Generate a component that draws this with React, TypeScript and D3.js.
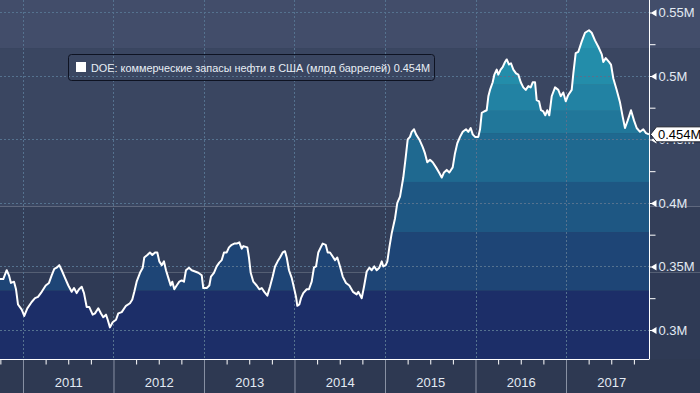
import React, { useEffect, useRef } from 'react';
import * as d3 from 'd3';

// weekly DOE commercial crude stocks, [decimal year, value in M]
const stocks2010 = [[2010.746,0.340],[2010.782,0.340],[2010.820,0.347],[2010.845,0.343],[2010.867,0.337],[2010.901,0.338],[2010.923,0.332],[2010.945,0.320],[2010.986,0.316]];
const stocks2011 = [[2011.014,0.311],[2011.048,0.317],[2011.096,0.322],[2011.133,0.325],[2011.166,0.326],[2011.207,0.330],[2011.251,0.335],[2011.287,0.337],[2011.317,0.343],[2011.346,0.348],[2011.372,0.349],[2011.401,0.351],[2011.428,0.347],[2011.464,0.341],[2011.501,0.335],[2011.538,0.330],[2011.564,0.333],[2011.593,0.329],[2011.619,0.332],[2011.649,0.334],[2011.674,0.329],[2011.704,0.318],[2011.733,0.318],[2011.770,0.312],[2011.796,0.313],[2011.832,0.317],[2011.862,0.313],[2011.887,0.310],[2011.917,0.312],[2011.936,0.308],[2011.961,0.302],[2011.991,0.306]];
const stocks2012 = [[2012.028,0.308],[2012.053,0.313],[2012.091,0.314],[2012.138,0.319],[2012.182,0.321],[2012.208,0.324],[2012.230,0.330],[2012.256,0.338],[2012.293,0.345],[2012.323,0.349],[2012.340,0.357],[2012.374,0.359],[2012.403,0.361],[2012.429,0.359],[2012.459,0.361],[2012.484,0.361],[2012.506,0.354],[2012.533,0.351],[2012.558,0.354],[2012.580,0.347],[2012.606,0.341],[2012.632,0.335],[2012.650,0.338],[2012.672,0.332],[2012.698,0.335],[2012.727,0.338],[2012.754,0.339],[2012.779,0.338],[2012.801,0.347],[2012.834,0.349],[2012.864,0.347],[2012.901,0.346],[2012.937,0.345],[2012.975,0.343],[2012.992,0.333]];
const stocks2013 = [[2013.030,0.333],[2013.059,0.335],[2013.077,0.342],[2013.110,0.345],[2013.140,0.350],[2013.169,0.353],[2013.196,0.355],[2013.221,0.361],[2013.251,0.361],[2013.276,0.365],[2013.306,0.367],[2013.335,0.368],[2013.361,0.368],[2013.390,0.369],[2013.417,0.364],[2013.435,0.366],[2013.479,0.365],[2013.497,0.357],[2013.516,0.345],[2013.545,0.338],[2013.582,0.335],[2013.611,0.332],[2013.638,0.333],[2013.666,0.330],[2013.700,0.327],[2013.729,0.334],[2013.759,0.342],[2013.785,0.350],[2013.814,0.354],[2013.840,0.357],[2013.870,0.361],[2013.895,0.362],[2013.914,0.357],[2013.939,0.347],[2013.969,0.341],[2013.995,0.333]];
const stocks2014 = [[2014.017,0.326],[2014.031,0.319],[2014.053,0.320],[2014.072,0.325],[2014.097,0.329],[2014.135,0.332],[2014.160,0.332],[2014.190,0.338],[2014.215,0.349],[2014.238,0.350],[2014.263,0.361],[2014.290,0.365],[2014.312,0.368],[2014.345,0.367],[2014.367,0.361],[2014.392,0.361],[2014.411,0.359],[2014.448,0.355],[2014.473,0.357],[2014.503,0.350],[2014.533,0.342],[2014.569,0.337],[2014.606,0.335],[2014.646,0.330],[2014.687,0.328],[2014.705,0.330],[2014.743,0.325],[2014.768,0.334],[2014.798,0.346],[2014.827,0.349],[2014.853,0.347],[2014.882,0.350],[2014.908,0.347],[2014.937,0.349],[2014.964,0.354],[2014.981,0.350]];
const stocks2015 = [[2015.008,0.351],[2015.026,0.354],[2015.048,0.365],[2015.074,0.376],[2015.111,0.388],[2015.136,0.400],[2015.166,0.405],[2015.202,0.420],[2015.229,0.436],[2015.251,0.450],[2015.276,0.452],[2015.295,0.456],[2015.321,0.458],[2015.343,0.454],[2015.379,0.450],[2015.417,0.444],[2015.442,0.439],[2015.467,0.432],[2015.497,0.434],[2015.527,0.432],[2015.564,0.428],[2015.597,0.424],[2015.627,0.420],[2015.652,0.424],[2015.682,0.426],[2015.711,0.424],[2015.748,0.428],[2015.773,0.439],[2015.799,0.447],[2015.829,0.452],[2015.859,0.456],[2015.895,0.458],[2015.921,0.456],[2015.947,0.459],[2015.969,0.454],[2015.995,0.452]];
const stocks2016 = [[2016.031,0.452],[2016.050,0.458],[2016.069,0.471],[2016.094,0.472],[2016.124,0.473],[2016.142,0.484],[2016.160,0.489],[2016.190,0.495],[2016.208,0.501],[2016.234,0.505],[2016.252,0.501],[2016.278,0.505],[2016.300,0.507],[2016.326,0.511],[2016.345,0.513],[2016.370,0.509],[2016.392,0.510],[2016.418,0.505],[2016.448,0.502],[2016.473,0.501],[2016.500,0.495],[2016.528,0.491],[2016.555,0.489],[2016.584,0.492],[2016.610,0.491],[2016.632,0.495],[2016.658,0.495],[2016.676,0.481],[2016.702,0.480],[2016.724,0.473],[2016.749,0.472],[2016.771,0.469],[2016.793,0.473],[2016.815,0.469],[2016.842,0.484],[2016.879,0.491],[2016.915,0.489],[2016.942,0.484],[2016.970,0.487],[2016.997,0.480]];
const stocks2017 = [[2017.025,0.485],[2017.063,0.489],[2017.081,0.502],[2017.107,0.518],[2017.136,0.519],[2017.173,0.527],[2017.210,0.534],[2017.254,0.536],[2017.284,0.534],[2017.320,0.528],[2017.357,0.523],[2017.395,0.517],[2017.412,0.511],[2017.439,0.514],[2017.475,0.511],[2017.497,0.509],[2017.523,0.498],[2017.560,0.489],[2017.597,0.479],[2017.626,0.468],[2017.652,0.459],[2017.682,0.465],[2017.718,0.473],[2017.751,0.465],[2017.781,0.459],[2017.818,0.456],[2017.854,0.458],[2017.884,0.455],[2017.917,0.454]];

const years = [2011, 2012, 2013, 2014, 2015, 2016, 2017];
const yTicks = [0.3, 0.35, 0.4, 0.45, 0.5, 0.55];
const yMinorTicks = [0.325, 0.375, 0.425, 0.475, 0.525];
const lastValue = 0.454;
const seriesName = 'DOE: коммерческие запасы нефти в США (млрд баррелей)';

// stepped colour bands
const fillSteps = [0.2771, 0.331, 0.377, 0.4165, 0.455, 0.4725, 0.493, 0.522, 0.5598];
const fillColors = ['#1c2e68', '#1e4576', '#1e5783', '#1f6990', '#21779a', '#2282a3', '#238daa', '#2796b1'];
const bgSteps = [0.2771, 0.345, 0.397, 0.522, 0.5598];
const bgColors = ['#2f3a55', '#333e58', '#3a4661', '#424d6a'];

const W = 700;
const H = 393;
const plotRight = 649;
const plotBottom = 359;
const font = '"Liberation Sans", Arial, sans-serif';

const App: React.FC = () => {
  const ref = useRef<SVGSVGElement | null>(null);

  useEffect(() => {
    if (!ref.current) return;
    const svg = d3.select(ref.current);
    svg.selectAll('*').remove();

    const data = [...stocks2010, ...stocks2011, ...stocks2012, ...stocks2013,
      ...stocks2014, ...stocks2015, ...stocks2016, ...stocks2017];

    const x = d3.scaleLinear().domain([2010.746, 2017.917]).range([0, plotRight]);
    const y = d3.scaleLinear().domain([0.2771, 0.5598]).range([plotBottom, 0]);

    // background bands
    bgColors.forEach((c, i) => {
      svg.append('rect')
        .attr('x', 0).attr('width', W)
        .attr('y', y(bgSteps[i + 1]))
        .attr('height', y(bgSteps[i]) - y(bgSteps[i + 1]))
        .attr('fill', c);
    });
    svg.append('rect')
      .attr('x', 0).attr('y', plotBottom).attr('width', W).attr('height', H - plotBottom)
      .attr('fill', '#2e3952');

    // area clip + stepped fill
    const area = d3.area<number[]>()
      .x(d => x(d[0]))
      .y0(plotBottom)
      .y1(d => y(d[1]));
    svg.append('clipPath').attr('id', 'area-clip')
      .append('path').attr('d', area(data) as string);

    const fills = svg.append('g').attr('clip-path', 'url(#area-clip)');
    fillColors.forEach((c, i) => {
      fills.append('rect')
        .attr('x', 0).attr('width', plotRight)
        .attr('y', y(fillSteps[i + 1]))
        .attr('height', y(fillSteps[i]) - y(fillSteps[i + 1]))
        .attr('fill', c);
    });

    // dotted grid
    const grid = svg.append('g')
      .attr('stroke', '#55728f')
      .attr('stroke-width', 1)
      .attr('stroke-dasharray', '2,2');
    grid.selectAll('line.v').data(years).enter().append('line')
      .attr('x1', d => Math.round(x(d)) + 0.5).attr('x2', d => Math.round(x(d)) + 0.5)
      .attr('y1', 0).attr('y2', plotBottom);
    grid.selectAll('line.h').data(yTicks).enter().append('line')
      .attr('x1', 0).attr('x2', plotRight)
      .attr('y1', d => Math.round(y(d)) + 0.5).attr('y2', d => Math.round(y(d)) + 0.5);

    // the line
    const line = d3.line<number[]>()
      .x(d => x(d[0]))
      .y(d => y(d[1]));
    svg.append('path')
      .attr('d', line(data) as string)
      .attr('fill', 'none')
      .attr('stroke', '#ffffff')
      .attr('stroke-width', 2)
      .attr('stroke-linejoin', 'round');

    // x axis: quarter ticks
    const quarters = d3.range(2010.75, 2017.9, 0.25).filter(q => Math.abs(q - Math.round(q)) > 0.01);
    const xMinor = svg.append('g')
      .attr('transform', `translate(0,${plotBottom + 0.5})`)
      .call(d3.axisBottom(x).tickValues(quarters).tickSize(5).tickFormat(() => '').tickSizeOuter(0));
    xMinor.select('.domain').attr('stroke', '#ffffff').attr('d', `M0,0H${plotRight}`);
    xMinor.selectAll('.tick line').attr('stroke', '#ffffff');

    // year separators
    const xYears = svg.append('g')
      .attr('transform', `translate(0,${plotBottom + 1})`)
      .call(d3.axisBottom(x).tickValues(years).tickSize(H - plotBottom).tickFormat(() => ''));
    xYears.select('.domain').remove();
    xYears.selectAll('.tick line').attr('stroke', '#8891a3');

    // year labels
    const xLabels = svg.append('g')
      .attr('transform', `translate(0,${plotBottom})`)
      .call(d3.axisBottom(x).tickValues(years.map(v => v + 0.5)).tickSize(0).tickPadding(19)
        .tickFormat(d => String(Math.floor(+d))));
    xLabels.select('.domain').remove();
    xLabels.selectAll('text')
      .attr('fill', '#e3eaf3')
      .attr('font-family', font)
      .attr('font-size', 13);

    // right axis
    const yMinor = svg.append('g')
      .attr('transform', `translate(${plotRight + 0.5},0)`)
      .call(d3.axisRight(y).tickValues(yMinorTicks).tickSize(6).tickFormat(() => '').tickSizeOuter(0));
    yMinor.select('.domain').attr('stroke', '#ffffff').attr('d', `M0,0V${plotBottom + 0.5}`);
    yMinor.selectAll('.tick line').attr('stroke', '#ffffff');

    const yAxis = svg.append('g')
      .attr('transform', `translate(${plotRight + 0.5},0)`)
      .call(d3.axisRight(y).tickValues(yTicks).tickSize(0).tickPadding(9).tickFormat(d => `${+d}M`));
    yAxis.select('.domain').remove();
    yAxis.selectAll('text')
      .attr('fill', '#e3eaf3')
      .attr('font-family', font)
      .attr('font-size', 13);
    yAxis.selectAll('.tick').append('path')
      .attr('d', 'M0,-0.5H2L7,-3.5V3.5L2,0.5H0Z')
      .attr('fill', '#ffffff');

    // last value marker
    const ly = y(lastValue);
    const last = svg.append('g').attr('transform', `translate(${plotRight + 1},${ly})`);
    last.append('path')
      .attr('d', 'M0.5,0L6.5,-7.5H52V7.5H6.5Z')
      .attr('fill', '#ffffff')
      .attr('stroke', '#1a1f2c')
      .attr('stroke-width', 1);
    last.append('text')
      .attr('x', 8).attr('y', 5)
      .attr('fill', '#000000')
      .attr('font-family', font)
      .attr('font-size', 13)
      .text(`${lastValue}M`);

    // legend box
    const lg = svg.append('g');
    lg.append('rect')
      .attr('x', 68.5).attr('y', 54.5).attr('width', 366).attr('height', 26).attr('rx', 3)
      .attr('fill', 'none').attr('stroke', '#0e1322').attr('stroke-width', 1);
    lg.append('rect')
      .attr('x', 76).attr('y', 62).attr('width', 10).attr('height', 10)
      .attr('fill', '#ffffff');
    lg.append('text')
      .attr('x', 91).attr('y', 72)
      .attr('fill', '#e8eef5')
      .attr('font-family', font)
      .attr('font-size', 11)
      .attr('textLength', 339)
      .attr('lengthAdjust', 'spacingAndGlyphs')
      .text(`${seriesName} ${lastValue}M`);
  }, []);

  return (
    <svg
      ref={ref}
      width={W}
      height={H}
      style={{ position: 'absolute', left: 0, top: 0, display: 'block' }}
    ></svg>
  );
};

export default App;
